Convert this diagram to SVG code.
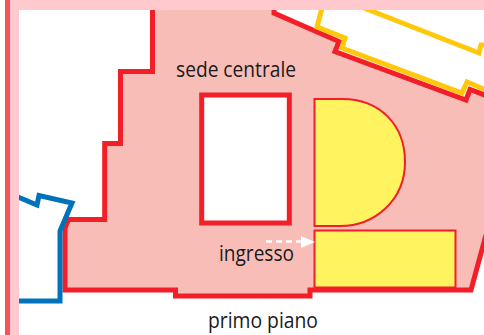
<svg xmlns="http://www.w3.org/2000/svg" width="484" height="335" viewBox="0 0 484 335">
<style>
.t{font-family:"Open Sans","Noto Sans",sans-serif;font-size:21.500px;fill:#1a1a1a}
.r{fill:none;stroke:#f21f29;stroke-width:5;stroke-linejoin:miter}
.c{fill:#fff;stroke:#f21f29;stroke-width:5}
.y{fill:#fff35f;stroke:#f21f29;stroke-width:2}
.o{fill:none;stroke:#ffc80a;stroke-width:5}
</style>
<rect width="484" height="335" fill="#fff"/>
<g id="sede-centrale">
<path d="M152.500 8V71.500H120.500V143.500H104.700V219.500H68L65 231V290H175.500V296H310V290H471L486 235V95.500L470 89.500L466 100L335 51.500L339 41.500L274 13V8Z" fill="#f9bdb8"/>
<path class="r" d="M152.500 8V71.500H120.500V143.500H104.700V219.500H68.500L65 228V290H175.500V296H310V290H471L486 235"/>
<path class="r" d="M486 95.500L470 89.500L466 100L335 51.500L339 41.500L274 13V8"/>
<rect class="c" x="201.700" y="95" width="87.600" height="128"/>
</g>
<g id="edificio-nord">
<path class="o" d="M322 8L317 27L345 38L342 48L462 93L467 82L486 90"/>
<path class="o" d="M364 8L479 53L481 45H486"/>
</g>
<g id="edificio-ovest">
<path fill="none" stroke="#0072bc" stroke-width="5" d="M18 197L37 205L39 195.500L72 203L60 231V301H18"/>
</g>
<g id="cornice">
<rect x="10" y="0" width="474" height="10" fill="#ffc9cd"/>
<rect x="10" y="0" width="9" height="335" fill="#ffc9cd"/>
<rect x="5" y="0" width="5" height="335" fill="#ff5059"/>
</g>
<g id="sala-d">
<path class="y" d="M314.500 99H342C380 99 405 125 405 162C405 200 375 226 340 226H314.500Z"/>
</g>
<g id="sala-rect">
<rect class="y" x="314.500" y="230.500" width="141" height="57"/>
</g>
<g id="connettori">
<path d="M266 241.500H303" fill="none" stroke="#fff" stroke-width="2.500" stroke-dasharray="6 4"/>
<path d="M301 236L315 242L301 248Z" fill="#fff"/>
</g>
<g id="etichette">
<text class="t" x="176" y="77" textLength="120" lengthAdjust="spacingAndGlyphs">sede centrale</text>
<text class="t" x="219" y="261" textLength="75" lengthAdjust="spacingAndGlyphs">ingresso</text>
<text class="t" x="208" y="327.500" textLength="110" lengthAdjust="spacingAndGlyphs">primo piano</text>
</g>
</svg>
